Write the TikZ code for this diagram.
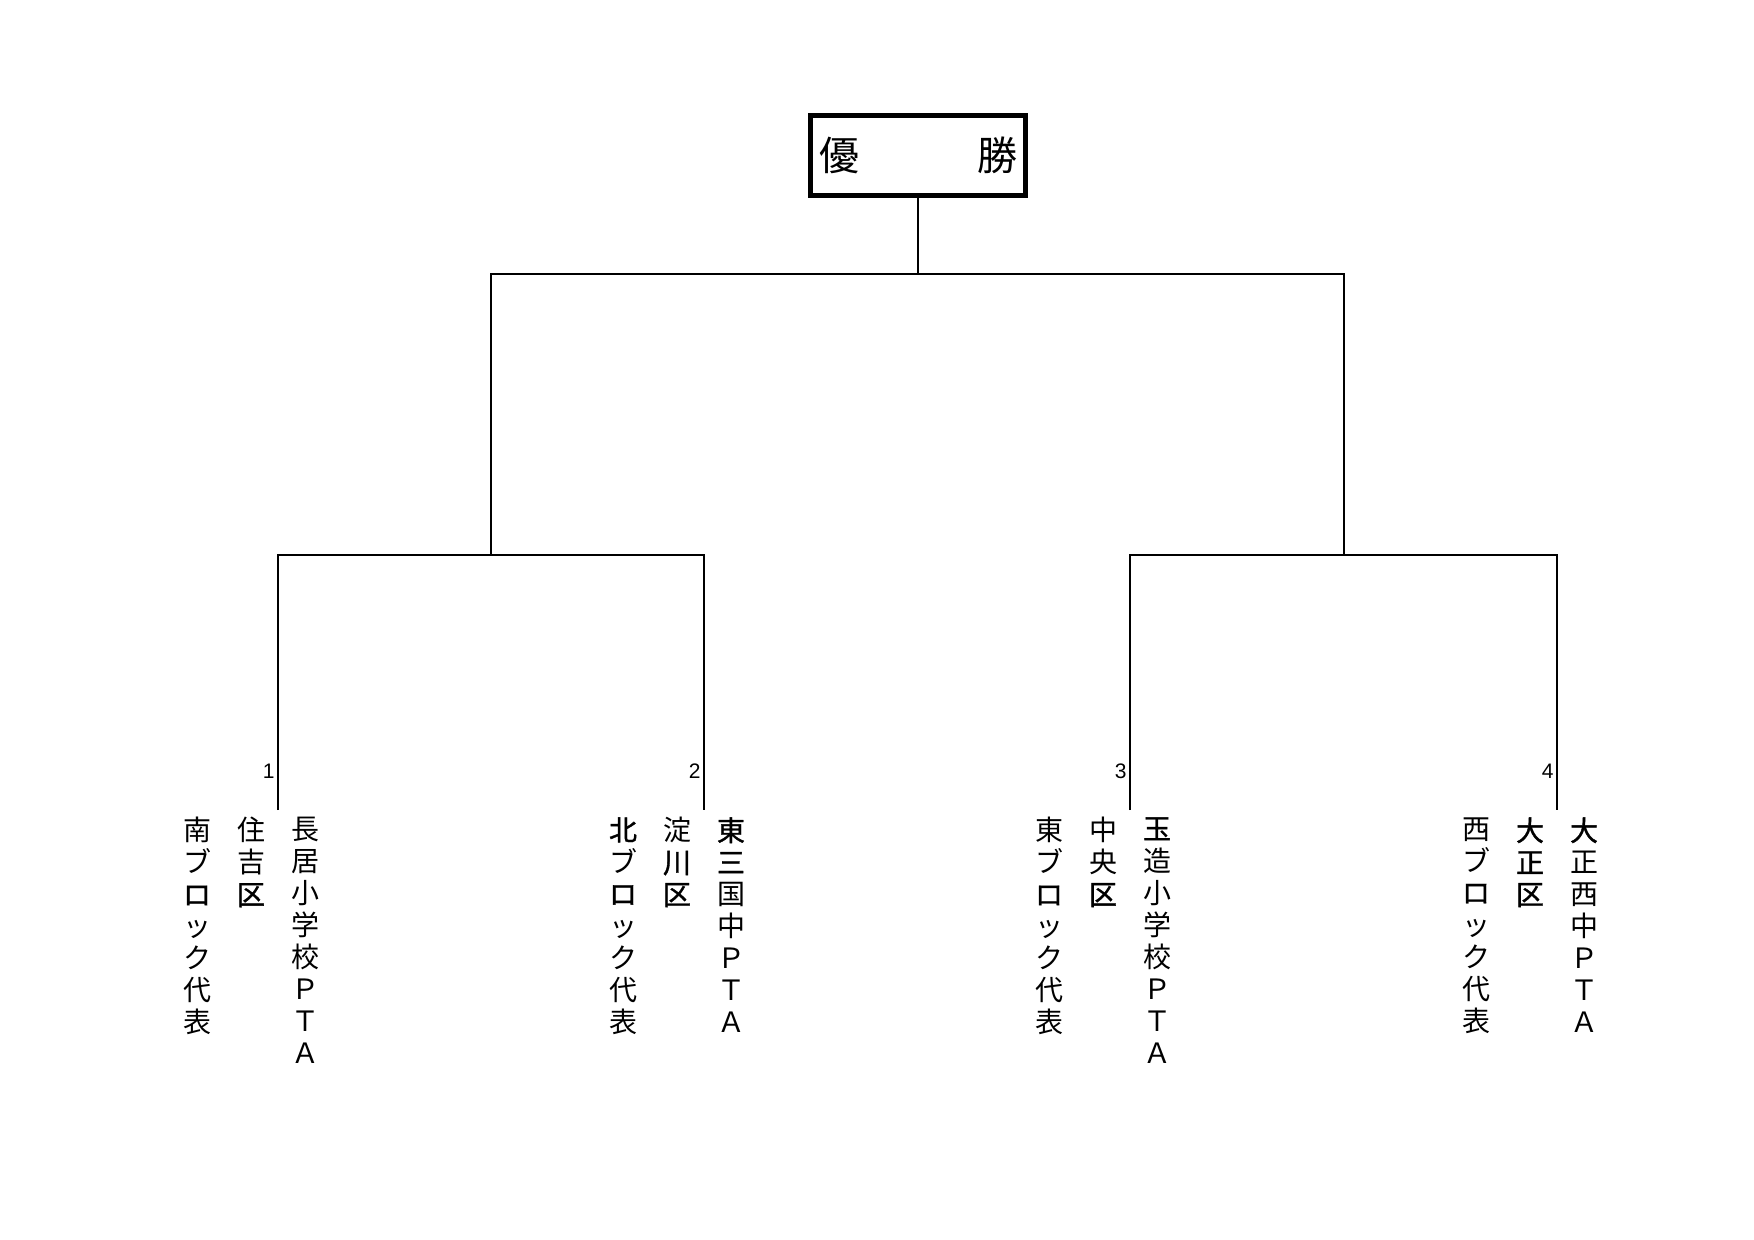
\documentclass[tikz,border=0pt]{standalone}
\usepackage{fontspec}
\setmainfont{Liberation Sans}
\newfontfamily\jp{Noto Sans CJK JP}
\newfontfamily\jpb[FakeBold=1.2]{Noto Sans CJK JP}
\newcommand{\hv}[1]{{\jpb #1}}
\begin{document}
\begin{tikzpicture}[x=0.5pt,y=-0.5pt,
  ln/.style={line width=1pt},
  col/.style={anchor=north, align=center, inner sep=0pt, font=\jp\fontsize{14pt}{16pt}\selectfont},
  num/.style={anchor=base east, inner sep=0pt, font=\fontsize{10.5pt}{12pt}\selectfont},
  winbox/.style={draw, line width=2.5pt, minimum width=107.5pt, minimum height=40pt, inner sep=0pt, font=\jp\fontsize{20pt}{24pt}\selectfont}]
\useasboundingbox (0,0) rectangle (1754,1240);
\fill[white] (0,0) rectangle (1754,1240);

% winner box
\node[winbox] (win) at (918,155.5) {\makebox[99pt]{優\hfill 勝}};

% bracket coordinates
\coordinate (n1) at (491,274);
\coordinate (n2) at (1343.5,274);
\coordinate (m1) at (491,555);
\coordinate (m2) at (1343.5,555);
\coordinate (s1) at (278,555);
\coordinate (s2) at (704,555);
\coordinate (s3) at (1130,555);
\coordinate (s4) at (1557,555);
\coordinate (t1) at (278,810);
\coordinate (t2) at (704,810);
\coordinate (t3) at (1130,810);
\coordinate (t4) at (1557,810);

\draw[ln] (win.south) -- (win.south |- n1);
\draw[ln] (m1) -- (n1) -- (n2) -- (m2);
\draw[ln] (t1) -- (s1) -- (s2) -- (t2);
\draw[ln] (t3) -- (s3) -- (s4) -- (t4);

% numbers
\node[num] (k1) at (275,778) {1};
\node[num] (k2) at (701,778) {2};
\node[num] (k3) at (1127,778) {3};
\node[num] (k4) at (1554,778) {4};

% group 1
\node[col] (a1) at (197,817) {南\\ブ\\\hv{ロ}\\ッ\\ク\\代\\表};
\node[col] (b1) at (251,817) {住\\吉\\\hv{区}};
\node[col] (c1) at (305,817) {長\\居\\小\\学\\校\\Ｐ\\Ｔ\\Ａ};
% group 2
\node[col] (a2) at (623,817) {\hv{北}\\ブ\\\hv{ロ}\\ッ\\ク\\代\\表};
\node[col] (b2) at (677,817) {淀\\\hv{川}\\\hv{区}};
\node[col] (c2) at (731,817) {\hv{東}\\\hv{三}\\国\\中\\Ｐ\\Ｔ\\Ａ};
% group 3
\node[col] (a3) at (1049,817) {東\\ブ\\\hv{ロ}\\ッ\\ク\\代\\表};
\node[col] (b3) at (1103,817) {中\\央\\\hv{区}};
\node[col] (c3) at (1157,817) {\hv{玉}\\造\\小\\学\\校\\Ｐ\\Ｔ\\Ａ};
% group 4
\node[col] (a4) at (1476,817) {西\\ブ\\\hv{ロ}\\ッ\\ク\\代\\表};
\node[col] (b4) at (1530,817) {\hv{大}\\\hv{正}\\\hv{区}};
\node[col] (c4) at (1584,817) {\hv{大}\\正\\西\\中\\Ｐ\\Ｔ\\Ａ};
\end{tikzpicture}
\end{document}
